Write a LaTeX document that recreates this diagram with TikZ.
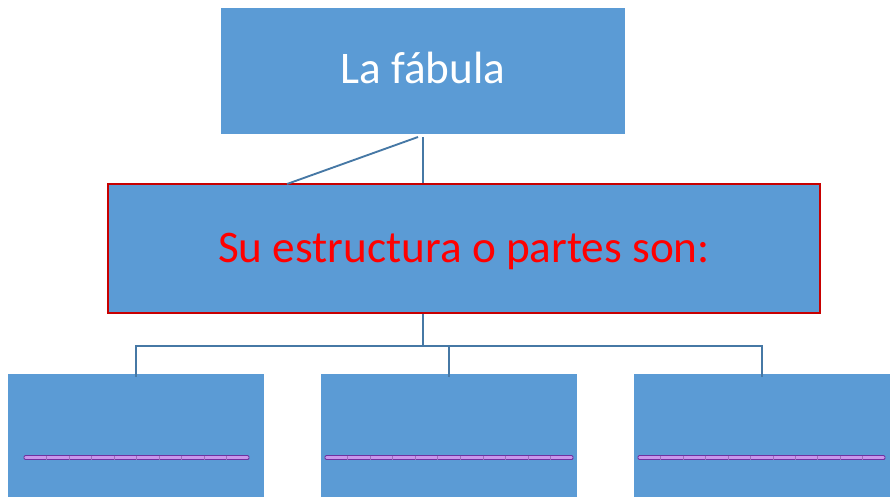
\documentclass[tikz,border=0pt]{standalone}
\usepackage{fontspec}
\setmainfont{Carlito}
\usepackage{xcolor}
\usetikzlibrary{positioning}
\definecolor{boxblue}{RGB}{91,155,213}
\definecolor{linkblue}{RGB}{70,120,165}
\definecolor{framered}{RGB}{200,0,0}
\definecolor{textred}{RGB}{255,0,0}
\definecolor{barpurple}{RGB}{112,48,160}
\definecolor{barlilac}{RGB}{200,150,235}

\begin{document}
\begin{tikzpicture}[x=0.03cm, y=-0.03cm,
    card/.style={fill=boxblue, inner sep=0pt, font=\fontsize{38.6}{44}\selectfont},
    link/.style={draw=linkblue, line width=1.6pt}]
  \useasboundingbox (0,0) rectangle (891,497);
  \clip (0,0) rectangle (891,497);
  % title and second level
  \node[card, text=white, text height=28pt, text depth=6pt, minimum width=12.12cm, minimum height=3.78cm] (fable) at (423,71) {La fábula};
  \node[card, text=textred, text height=30pt, text depth=5.4pt, draw=framered, line width=1.5pt, minimum width=21.36cm, minimum height=3.87cm] (parts) at (464,248.5) {Su estructura o partes son:};
  % three empty boxes at the bottom
  \node[card, minimum width=7.68cm, minimum height=3.69cm] (partA) at (136,435.5) {};
  \node[card, minimum width=7.68cm, minimum height=3.69cm] (partB) at (449,435.5) {};
  \node[card, minimum width=7.68cm, minimum height=3.69cm] (partC) at (762,435.5) {};
  % connectors
  \coordinate (top) at (423,137);
  \coordinate (slant) at (418,137);
  \coordinate (foot) at (287,184);
  \coordinate (hub) at (423,346);
  \draw[link] (top) -- (top |- parts.north);
  \draw[link] (slant) -- (foot);
  \draw[link] (parts.south -| hub) -- (hub);
  \draw[link] (hub) -| ([yshift=-3]partA.north);
  \draw[link] (hub) -| ([yshift=-3]partB.north);
  \draw[link] (hub) -| ([yshift=-3]partC.north);
  % writing lines
  \foreach \xa/\xb/\n in {24/249/10, 325/573/11, 638/885/11} {
    \draw[barpurple, line width=0.8pt, fill=barlilac, rounded corners=1pt]
      (\xa,455.5) rectangle (\xb,459.5);
    \foreach \k in {1,...,\numexpr\n-1\relax}
      \draw[barpurple!70, line width=0.4pt]
        (\xa+\k*\xb/\n-\k*\xa/\n,455.5) -- (\xa+\k*\xb/\n-\k*\xa/\n,459.5);
  }
\end{tikzpicture}
\end{document}
